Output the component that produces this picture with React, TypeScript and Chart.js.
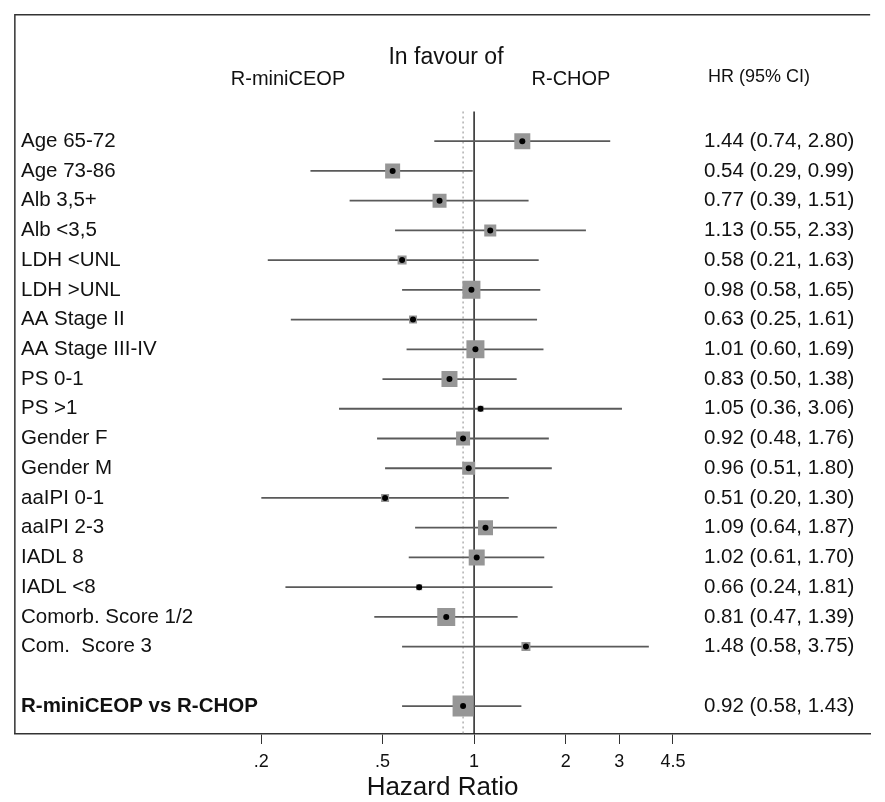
import React, { useEffect, useRef } from 'react';
import { Chart, registerables } from 'chart.js';

Chart.register(...registerables);

const labels = [
  'Age 65-72', 'Age 73-86', 'Alb 3,5+', 'Alb <3,5', 'LDH <UNL', 'LDH >UNL',
  'AA Stage II', 'AA Stage III-IV', 'PS 0-1', 'PS >1', 'Gender F', 'Gender M',
  'aaIPI 0-1', 'aaIPI 2-3', 'IADL 8', 'IADL <8', 'Comorb. Score 1/2', 'Com.  Score 3',
];
const hr = [1.44, 0.54, 0.77, 1.13, 0.58, 0.98, 0.63, 1.01, 0.83, 1.05, 0.92, 0.96, 0.51, 1.09, 1.02, 0.66, 0.81, 1.48];
const lower = [0.74, 0.29, 0.39, 0.55, 0.21, 0.58, 0.25, 0.60, 0.50, 0.36, 0.48, 0.51, 0.20, 0.64, 0.61, 0.24, 0.47, 0.58];
const upper = [2.80, 0.99, 1.51, 2.33, 1.63, 1.65, 1.61, 1.69, 1.38, 3.06, 1.76, 1.80, 1.30, 1.87, 1.70, 1.81, 1.39, 3.75];
// relative study weight (drives the size of the grey square)
const weight = [16, 15, 14, 12, 9, 18, 8, 18, 16, 6, 14, 13, 8, 15, 16, 6, 18, 9];

const summaryLabel = 'R-miniCEOP vs R-CHOP';
const summaryHR = [0.92];
const summaryLower = [0.58];
const summaryUpper = [1.43];
const summaryWeight = [21];

const xTickValues = [0.2, 0.5, 1, 2, 3, 4.5];
const xTickLabels = ['.2', '.5', '1', '2', '3', '4.5'];

const FONT = '"Liberation Sans", Arial, sans-serif';
const SUMMARY_ROW = labels.length + 1;
const Y_MIN = -4.25;
const Y_MAX = 19.94;
const REF_TOP = -1.0;

const fmt = (v: number) => v.toFixed(2);

export default function App() {
  const ref = useRef<HTMLCanvasElement | null>(null);

  useEffect(() => {
    if (!ref.current) return;
    const rows = labels.map((_, i) => i);
    const allHR = [...hr, ...summaryHR];
    const allLo = [...lower, ...summaryLower];
    const allHi = [...upper, ...summaryUpper];
    const allW = [...weight, ...summaryWeight];
    const allY = [...rows, SUMMARY_ROW];

    const ciSets: any[] = allY.map((y, i) => ({
      type: 'line',
      data: [{ x: allLo[i], y }, { x: allHi[i], y }],
      borderColor: '#5a5a5a',
      borderWidth: 1.8,
      pointRadius: 0,
      order: 3,
    }));

    const textPlugin = {
      id: 'forestText',
      afterDraw(chart: any) {
        const { ctx, chartArea, scales } = chart;
        const ys = scales.y;
        ctx.save();
        // frame
        ctx.strokeStyle = '#333';
        ctx.lineWidth = 1.5;
        ctx.beginPath();
        ctx.moveTo(chartArea.left, chartArea.bottom);
        ctx.lineTo(chartArea.left, chartArea.top);
        ctx.lineTo(chartArea.right, chartArea.top);
        ctx.stroke();

        ctx.fillStyle = '#111';
        ctx.textBaseline = 'middle';
        // headers
        ctx.textAlign = 'center';
        ctx.font = `23px ${FONT}`;
        ctx.fillText('In favour of', 446, 58);
        ctx.font = `20px ${FONT}`;
        ctx.fillText('R-miniCEOP', 288, 79);
        ctx.fillText('R-CHOP', 571, 79);
        ctx.textAlign = 'left';
        ctx.font = `18px ${FONT}`;
        ctx.fillText('HR (95% CI)', 708, 77);

        // rows
        allY.forEach((y, i) => {
          const py = ys.getPixelForValue(y);
          const isSummary = i === allY.length - 1;
          ctx.font = `${isSummary ? 'bold ' : ''}20.5px ${FONT}`;
          ctx.textAlign = 'left';
          ctx.fillText(isSummary ? summaryLabel : labels[i], 21, py);
          ctx.font = `20.5px ${FONT}`;
          ctx.fillText(`${fmt(allHR[i])} (${fmt(allLo[i])}, ${fmt(allHi[i])})`, 704, py);
        });
        ctx.restore();
      },
    };

    const chart = new Chart(ref.current, {
      type: 'scatter',
      data: {
        datasets: [
          {
            type: 'scatter',
            data: allY.map((y, i) => ({ x: allHR[i], y })),
            pointStyle: 'circle',
            pointRadius: 3,
            backgroundColor: '#000',
            borderWidth: 0,
            order: 0,
          } as any,
          {
            type: 'scatter',
            data: allY.map((y, i) => ({ x: allHR[i], y })),
            pointStyle: 'rect',
            pointRadius: allW.map((w) => w / Math.SQRT2),
            backgroundColor: '#969696',
            borderWidth: 0,
            order: 1,
          } as any,
          ...ciSets,
          {
            type: 'line',
            data: [{ x: 1, y: REF_TOP }, { x: 1, y: Y_MAX }],
            borderColor: '#222',
            borderWidth: 1.5,
            pointRadius: 0,
            order: 4,
          },
          {
            type: 'line',
            data: [{ x: summaryHR[0], y: REF_TOP }, { x: summaryHR[0], y: Y_MAX }],
            borderColor: '#888',
            borderWidth: 1,
            borderDash: [2, 3],
            pointRadius: 0,
            order: 5,
          },
        ],
      },
      options: {
        responsive: false,
        animation: false,
        devicePixelRatio: 1,
        layout: { padding: { left: 8, right: 0, top: 6, bottom: 0 } },
        plugins: { legend: { display: false }, tooltip: { enabled: false } },
        scales: {
          x: {
            type: 'logarithmic',
            min: 0.031,
            max: 20,
            afterBuildTicks: (scale: any) => {
              scale.ticks = xTickValues.map((v) => ({ value: v }));
            },
            ticks: {
              autoSkip: false,
              maxRotation: 0,
              padding: 9,
              color: '#111',
              font: { family: FONT, size: 18, lineHeight: 1 },
              callback: (v: any) => {
                const i = xTickValues.indexOf(Number(v));
                return i >= 0 ? xTickLabels[i] : '';
              },
            },
            grid: { display: true, drawOnChartArea: false, drawTicks: true, tickLength: 10, color: '#333', lineWidth: 1 },
            border: { display: true, color: '#333', width: 1.5 },
            title: {
              display: true,
              text: 'Hazard Ratio',
              color: '#111',
              font: { family: FONT, size: 26, lineHeight: 0.615 },
              padding: { top: 0, bottom: 6 },
            },
          },
          y: {
            type: 'linear',
            min: Y_MIN,
            max: Y_MAX,
            reverse: true,
            display: false,
          },
        },
      },
      plugins: [textPlugin],
    } as any);

    return () => chart.destroy();
  }, []);

  return (
    <div style={{ position: 'fixed', left: 0, top: 0, width: 885, height: 802, background: '#fff' }}>
      <canvas ref={ref} width={885} height={802} style={{ display: 'block' }} />
    </div>
  );
}
